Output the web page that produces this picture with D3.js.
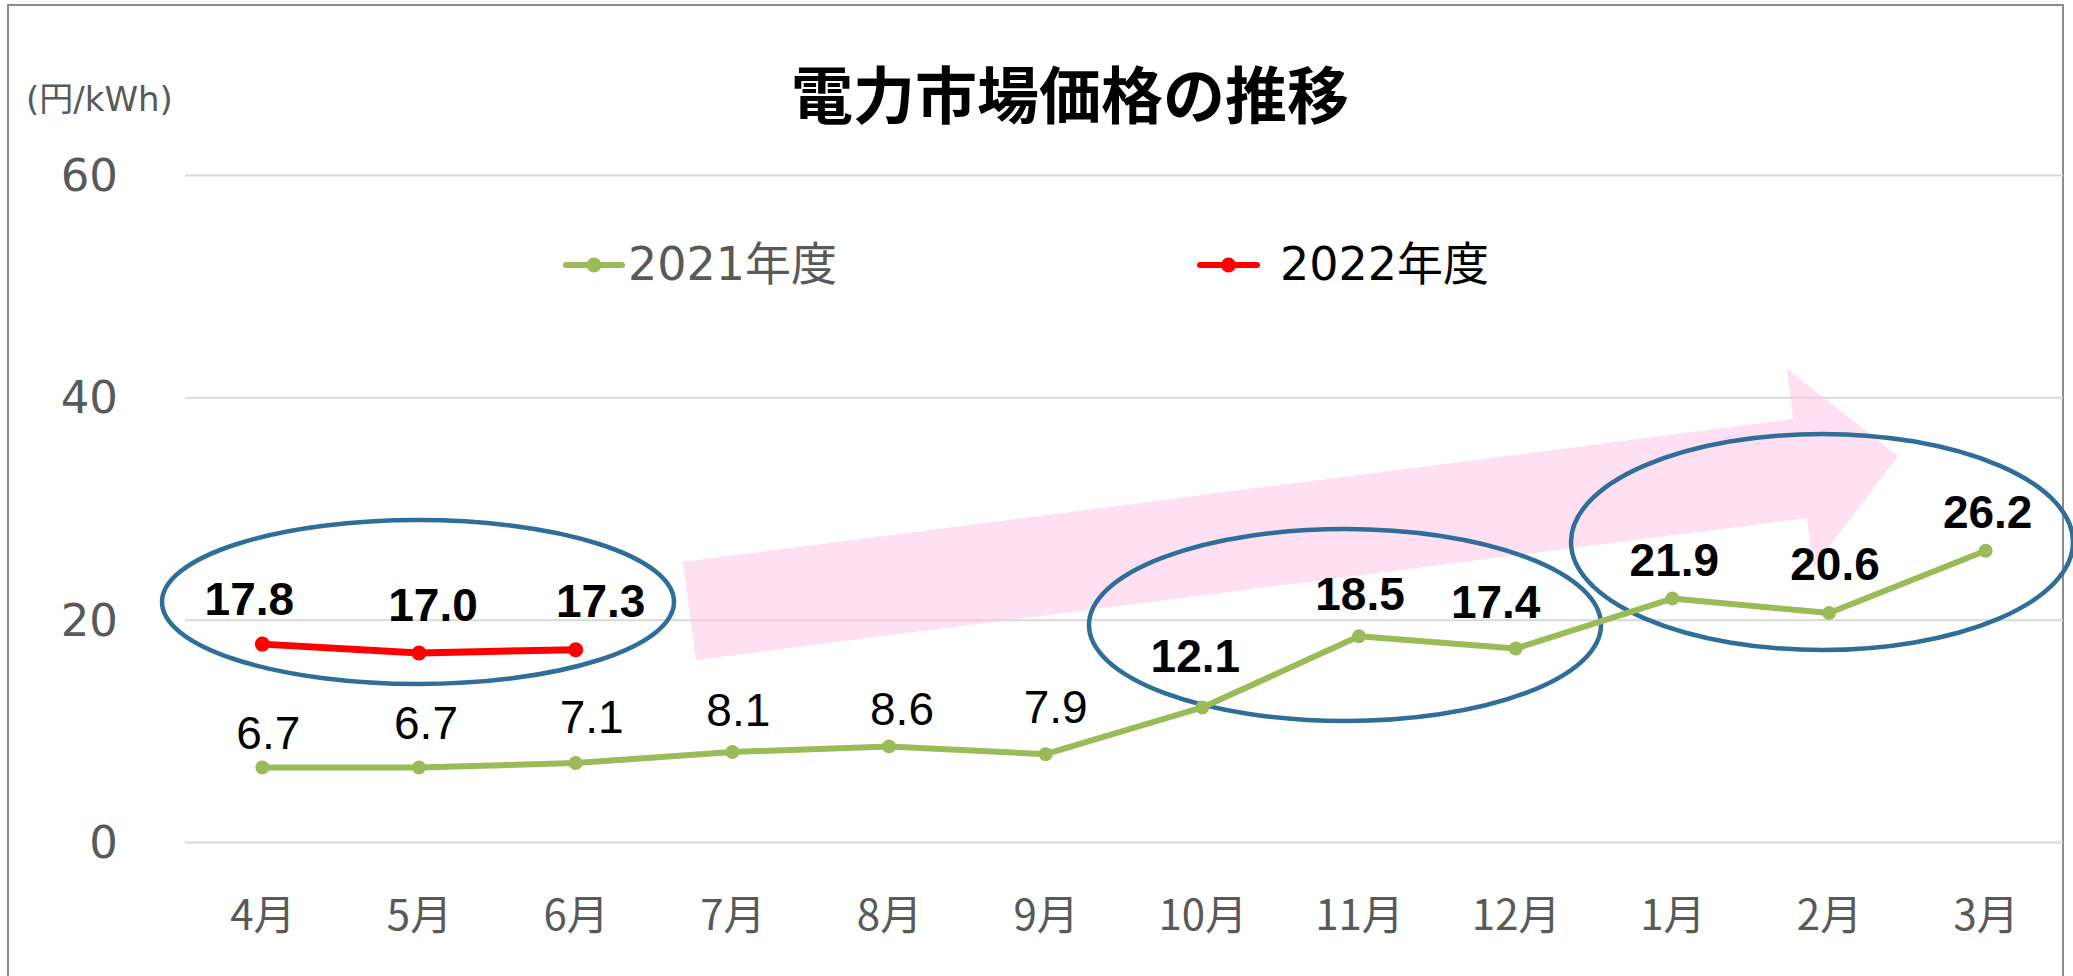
<!DOCTYPE html>
<html>
<head>
<meta charset="utf-8">
<script src="https://cdn.jsdelivr.net/npm/d3@7"></script>
<style>
  html, body { margin: 0; padding: 0; background: #ffffff; }
  svg { display: block; }
</style>
</head>
<body>
<script>
// ---------------- data ----------------
const chartTitle = "電力市場価格の推移";
const unitLabel = "(円/kWh)";
const months = ["4月", "5月", "6月", "7月", "8月", "9月", "10月", "11月", "12月", "1月", "2月", "3月"];
const seriesNames = ["2021年度", "2022年度"];
const fy2021 = [6.7, 6.7, 7.1, 8.1, 8.6, 7.9, 12.1, 18.5, 17.4, 21.9, 20.6, 26.2];
const fy2022 = [17.8, 17.0, 17.3];
const yTicks = [0, 20, 40, 60];

// ---------------- layout ----------------
const W = 2073, H = 976;
const plotLeft = 184, plotRight = 2064, plotTop = 175, plotBottom = 842;
// label offsets (dx, dy) relative to each point
const off2021 = [[6,-19],[7,-29],[16,-30],[6,-26],[13,-21],[10,-31],[-7,-35],[1,-26],[-20,-31],[2,-23],[6,-33],[2,-23]];
const off2022 = [[-13,-29],[14,-32],[25,-33]];
const boldFrom2021 = 6;
const uiFont = "'DejaVu Sans', 'Noto Sans CJK JP', sans-serif";
const cjkFont = "'Noto Sans CJK JP', sans-serif";

const svg = d3.select("body").append("svg").attr("width", W).attr("height", H);

const x = d3.scalePoint().domain(months).range([plotLeft, plotRight]).padding(0.5);
const y = d3.scaleLinear().domain([0, 60]).range([plotBottom, plotTop]);

// frame
svg.append("rect").attr("x", 8).attr("y", 5).attr("width", 2055).attr("height", 1000)
  .attr("fill", "none").attr("stroke", "#8c8c8c").attr("stroke-width", 2);

// title
svg.append("text").attr("x", 1070).attr("y", 92)
  .attr("text-anchor", "middle").attr("dominant-baseline", "central")
  .style("font-family", cjkFont).style("font-weight", "bold")
  .style("font-size", "62px").attr("fill", "#000").text(chartTitle);

// unit label
svg.append("text").attr("x", 26).attr("y", 99)
  .attr("dominant-baseline", "central")
  .style("font-family", uiFont).style("font-size", "34px")
  .attr("fill", "#595959").text(unitLabel);

// y axis with gridlines
const yAxis = svg.append("g").attr("transform", `translate(${plotLeft + 1},0)`)
  .call(d3.axisLeft(y).tickValues(yTicks).tickSize(-(2063 - plotLeft - 1)).tickPadding(67).tickFormat(d3.format("d")));
yAxis.select(".domain").remove();
yAxis.selectAll(".tick line").attr("stroke", "#d9d9d9").attr("stroke-width", 2);
yAxis.selectAll(".tick text").attr("dy", null).attr("dominant-baseline", "central")
  .style("font-family", uiFont).style("font-size", "45px").attr("fill", "#595959");

// x axis labels
const xAxis = svg.append("g").attr("transform", `translate(0,${plotBottom})`)
  .call(d3.axisBottom(x).tickSize(0).tickPadding(0));
xAxis.select(".domain").remove();
xAxis.selectAll(".tick text").attr("y", 69).attr("dy", null).attr("dominant-baseline", "central")
  .style("font-family", cjkFont).style("font-size", "42px").attr("fill", "#595959");

// pink trend arrow (annotation)
const arrowPts = [[683,562],[1793,419],[1787,369],[1898,456],[1813,568],[1807,518],[696,660]];
svg.append("polygon").attr("points", arrowPts.map(p => p.join(",")).join(" "))
  .attr("fill", "#ffc6ea").attr("fill-opacity", 0.55);

// ellipses (annotation)
const ellipses = [[418, 602, 256, 82], [1345, 625, 256, 96], [1822, 542, 251, 108]];
svg.selectAll("ellipse.hl").data(ellipses).enter().append("ellipse").attr("class", "hl")
  .attr("cx", d => d[0]).attr("cy", d => d[1]).attr("rx", d => d[2]).attr("ry", d => d[3])
  .attr("fill", "none").attr("stroke", "#2e6e98").attr("stroke-width", 4.5);

// lines
const line = d3.line().x((d, i) => x(months[i])).y(d => y(d));
const g2021 = fy2021.map((v, i) => ({v, i}));
const g2022 = fy2022.map((v, i) => ({v, i}));

svg.append("path").datum(fy2021).attr("d", line).attr("fill", "none")
  .attr("stroke", "#9bbb59").attr("stroke-width", 6).attr("stroke-linejoin", "round");
svg.selectAll("circle.p21").data(g2021).enter().append("circle").attr("class", "p21")
  .attr("cx", d => x(months[d.i])).attr("cy", d => y(d.v)).attr("r", 7).attr("fill", "#9bbb59");

svg.append("path").datum(fy2022).attr("d", line).attr("fill", "none")
  .attr("stroke", "#ff0000").attr("stroke-width", 7).attr("stroke-linejoin", "round");
svg.selectAll("circle.p22").data(g2022).enter().append("circle").attr("class", "p22")
  .attr("cx", d => x(months[d.i])).attr("cy", d => y(d.v)).attr("r", 7.5).attr("fill", "#ff0000");

// data labels
svg.selectAll("text.l21").data(g2021).enter().append("text").attr("class", "l21")
  .attr("x", d => x(months[d.i]) + off2021[d.i][0]).attr("y", d => y(d.v) + off2021[d.i][1])
  .attr("text-anchor", "middle")
  .style("font-family", "'Liberation Sans', Arial, sans-serif").style("font-size", "46px")
  .style("font-weight", d => d.i >= boldFrom2021 ? "bold" : "normal")
  .attr("fill", "#000").text(d => d.v.toFixed(1));

svg.selectAll("text.l22").data(g2022).enter().append("text").attr("class", "l22")
  .attr("x", d => x(months[d.i]) + off2022[d.i][0]).attr("y", d => y(d.v) + off2022[d.i][1])
  .attr("text-anchor", "middle")
  .style("font-family", "'Liberation Sans', Arial, sans-serif").style("font-size", "46px")
  .style("font-weight", "bold").attr("fill", "#000").text(d => d.v.toFixed(1));

// legend
const legend = [
  {name: seriesNames[0], color: "#9bbb59", text: "#595959", x0: 566, x1: 622, tx: 628},
  {name: seriesNames[1], color: "#ff0000", text: "#000000", x0: 1200, x1: 1257, tx: 1280}
];
const lg = svg.selectAll("g.lg").data(legend).enter().append("g").attr("class", "lg");
lg.append("line").attr("x1", d => d.x0).attr("x2", d => d.x1).attr("y1", 265).attr("y2", 265)
  .attr("stroke", d => d.color).attr("stroke-width", 6).attr("stroke-linecap", "round");
lg.append("circle").attr("cx", d => (d.x0 + d.x1) / 2).attr("cy", 265).attr("r", 7.5).attr("fill", d => d.color);
lg.append("text").attr("x", d => d.tx).attr("y", 264).attr("dominant-baseline", "central")
  .style("font-family", uiFont).style("font-size", "46px")
  .attr("fill", d => d.text).text(d => d.name);
</script>
</body>
</html>
